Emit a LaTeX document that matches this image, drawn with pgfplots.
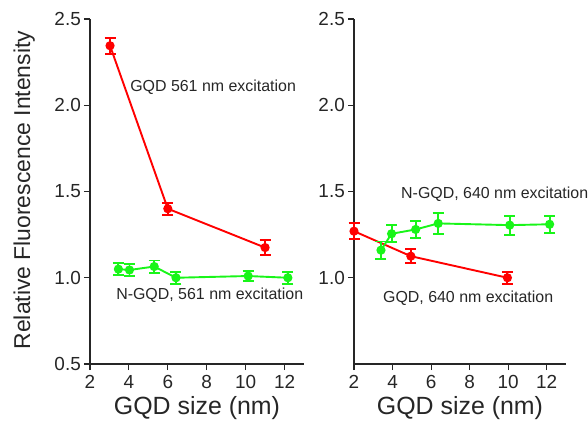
\documentclass[border=0pt]{standalone}
\usepackage{pgfplots}
\pgfplotsset{compat=1.18}
\usepackage{fontspec}
\setmainfont{Liberation Sans}

\definecolor{gqdred}{RGB}{255,0,0}
\definecolor{ngqdgreen}{RGB}{25,245,25}

\tikzset{
  note/.style={anchor=west, inner sep=0pt, font=\fontsize{16}{18}\selectfont, text=black!85},
}

\pgfplotsset{
  gqdpanel/.style={
    scale only axis,
    width=214bp, height=345bp,
    xmin=2, xmax=13, ymin=0.5, ymax=2.5,
    axis lines*=left,
    axis line style={line width=1.1bp, black!85},
    tick align=outside,
    major tick length=6bp,
    tick style={line width=1.1bp, black!85},
    xtick={2,4,...,12},
    /pgf/number format/assume math mode=true,
    ticklabel style={font=\fontsize{19}{21}\selectfont, text=black!85},
    xticklabel style={inner sep=5bp},
    yticklabel style={inner sep=3bp, /pgf/number format/fixed,
      /pgf/number format/fixed zerofill, /pgf/number format/precision=1},
    xlabel={GQD size (nm)},
    xlabel style={at={(rel axis cs:0.5,0)}, anchor=center, yshift=-44bp,
      font=\fontsize{25}{28}\selectfont, text=black!85},
    clip=false,
  },
  series/.style={
    color=#1, line width=1.9bp,
    mark=*, mark size=3.6bp, mark options={solid, fill=#1},
    error bars/.cd, y dir=both, y explicit,
    error bar style={line width=1.9bp, color=#1},
    error mark options={rotate=90, mark size=5.5bp, line width=1.9bp, color=#1},
  },
}

\begin{document}
\begin{tikzpicture}
\useasboundingbox (-90bp,-60bp) rectangle (498bp,364bp);

% 561 nm excitation
\begin{axis}[gqdpanel, at={(0bp,0bp)}, anchor=origin,
  ytick={0.5,1,...,2.5},
  ylabel={Relative Fluorescence Intensity},
  ylabel style={at={(axis description cs:-0.308,0.504)}, anchor=center,
    font=\fontsize{23}{25}\selectfont, text=black!85},
]
\addplot[series=gqdred] coordinates {
  (3.03,2.345) +- (0,0.047)
  (6.0,1.40)   +- (0,0.035)
  (11.0,1.175) +- (0,0.045)
};
\addplot[series=ngqdgreen] coordinates {
  (3.46,1.05)  +- (0,0.035)
  (4.03,1.045) +- (0,0.035)
  (5.3,1.065)  +- (0,0.035)
  (6.42,1.0)   +- (0,0.035)
  (10.13,1.01) +- (0,0.03)
  (12.17,1.0)  +- (0,0.035)
};
\node[note] at (axis cs:4.06,2.105) {GQD 561 nm excitation};
\node[note] at (axis cs:3.34,0.90) {N-GQD, 561 nm excitation};
\end{axis}

% 640 nm excitation
\begin{axis}[gqdpanel, at={(264bp,0bp)}, anchor=origin, width=212bp,
  ytick={1,1.5,...,2.5},
]
\addplot[series=gqdred] coordinates {
  (2.0,1.27)  +- (0,0.045)
  (4.95,1.125) +- (0,0.04)
  (9.96,1.0)  +- (0,0.035)
};
\addplot[series=ngqdgreen] coordinates {
  (3.4,1.16)   +- (0,0.05)
  (3.95,1.255) +- (0,0.05)
  (5.2,1.28)   +- (0,0.05)
  (6.37,1.315) +- (0,0.06)
  (10.08,1.305) +- (0,0.055)
  (12.15,1.31) +- (0,0.05)
};
\node[note] at (axis cs:4.44,1.483) {N-GQD, 640 nm excitation};
\node[note] at (axis cs:3.50,0.88) {GQD, 640 nm excitation};
\end{axis}
\end{tikzpicture}
\end{document}
